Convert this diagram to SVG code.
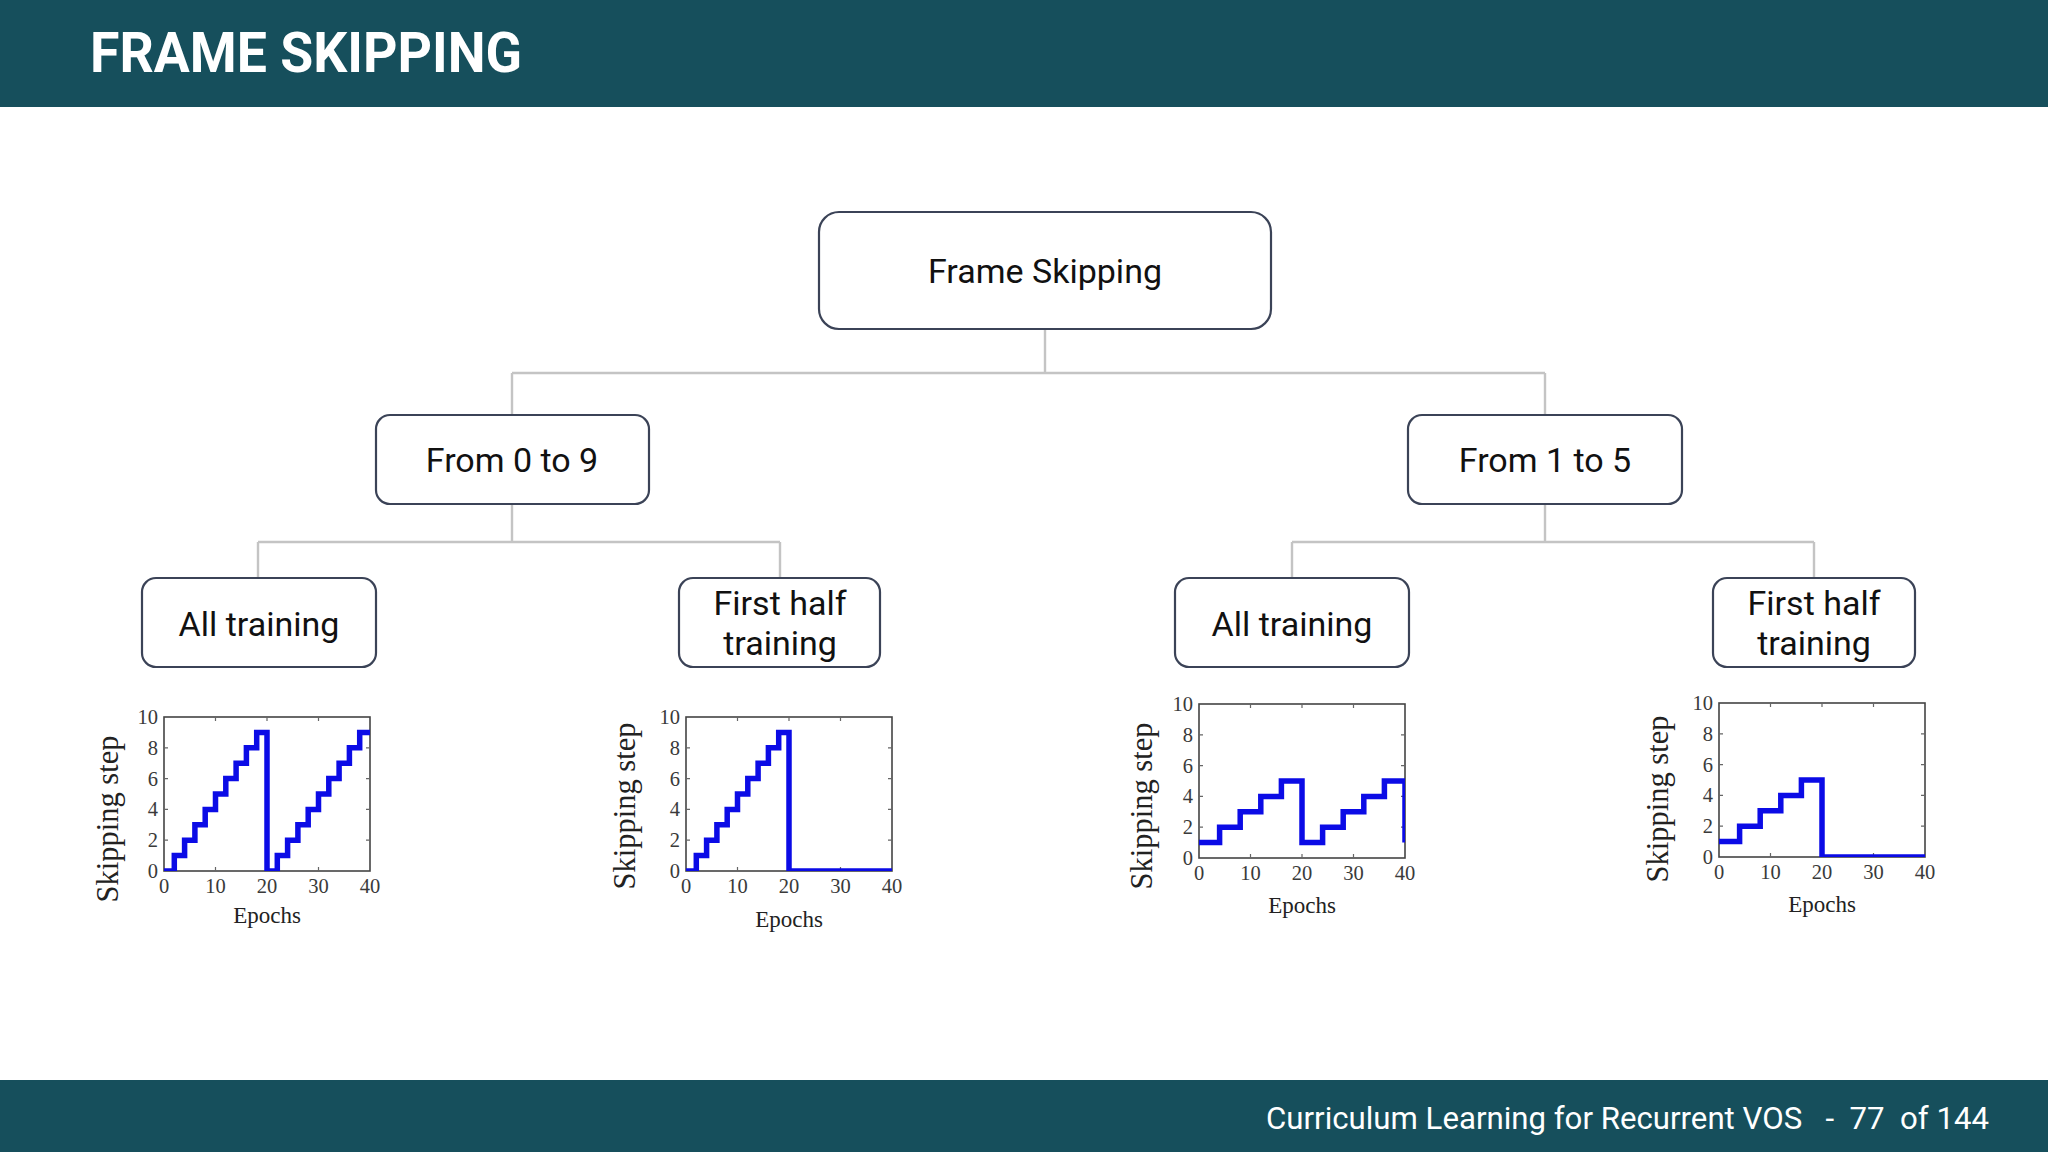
<svg xmlns="http://www.w3.org/2000/svg" width="2048" height="1152" viewBox="0 0 2048 1152">
<defs>
<style>
.band{fill:#164f5c}
.node rect{fill:#ffffff;stroke:#3b4357;stroke-width:2.2}
.node text{font-family:Roboto,"Liberation Sans",sans-serif;font-size:34px;fill:#111111;text-anchor:middle}
.conn{fill:none;stroke:#c4c4c4;stroke-width:2.4}
.frame{fill:none;stroke:#444444;stroke-width:1.6}
.tick{stroke:#666666;stroke-width:1.2}
.tl{font-family:"Liberation Serif","Times New Roman",serif;font-size:20.5px;fill:#3a3a3a}
.tly{text-anchor:end}
.tlx{text-anchor:middle}
.xl{font-family:"Liberation Serif","Times New Roman",serif;font-size:23px;fill:#222222;text-anchor:middle}
.yl{font-family:"Liberation Serif","Times New Roman",serif;font-size:30.5px;fill:#222222;text-anchor:middle}
.data{fill:none;stroke:#0b0be6;stroke-width:5.5;stroke-linejoin:miter;stroke-linecap:butt}
</style>
<clipPath id="plotclip"><rect x="0" y="0" width="206" height="154"/></clipPath>
<g id="axes">
<rect class="frame" x="0" y="0" width="206" height="154"/>
<path class="tick" d="M51.5,154v-4M103,154v-4M154.5,154v-4M51.5,0v4M103,0v4M154.5,0v4M0,123.2h4M0,92.4h4M0,61.6h4M0,30.8h4M206,123.2h-4M206,92.4h-4M206,61.6h-4M206,30.8h-4"/>
<text class="tl tly" x="-6" y="161">0</text>
<text class="tl tly" x="-6" y="130.2">2</text>
<text class="tl tly" x="-6" y="99.4">4</text>
<text class="tl tly" x="-6" y="68.6">6</text>
<text class="tl tly" x="-6" y="37.8">8</text>
<text class="tl tly" x="-6" y="7">10</text>
<text class="tl tlx" x="0" y="176">0</text>
<text class="tl tlx" x="51.5" y="176">10</text>
<text class="tl tlx" x="103" y="176">20</text>
<text class="tl tlx" x="154.5" y="176">30</text>
<text class="tl tlx" x="206" y="176">40</text>
</g>
</defs>

<rect x="0" y="0" width="2048" height="1152" fill="#ffffff"/>

<g id="header">
<rect class="band" x="0" y="0" width="2048" height="107"/>
<text x="90" y="72" font-family="Roboto,'Liberation Sans',sans-serif" font-weight="700" font-size="56" fill="#ffffff" textLength="432" lengthAdjust="spacingAndGlyphs">FRAME SKIPPING</text>
</g>

<g id="footer">
<rect class="band" x="0" y="1080" width="2048" height="72"/>
<text x="1266" y="1129" xml:space="preserve" font-family="Roboto,'Liberation Sans',sans-serif" font-size="31" fill="#ffffff" textLength="723" lengthAdjust="spacingAndGlyphs">Curriculum Learning for Recurrent VOS   -  77  of 144</text>
</g>

<g id="connectors">
<path class="conn" d="M1045,329V373M512,373H1545M512,373V415M1545,373V415"/>
<path class="conn" d="M512,504V542M258,542H780M258,542V578M780,542V578"/>
<path class="conn" d="M1545,504V542M1292,542H1814M1292,542V578M1814,542V578"/>
</g>

<g id="node-root" class="node">
<rect x="819" y="212" width="452" height="117" rx="20"/>
<text x="1045" y="283">Frame Skipping</text>
</g>
<g id="node-0to9" class="node">
<rect x="376" y="415" width="273" height="89" rx="14"/>
<text x="512" y="472">From 0 to 9</text>
</g>
<g id="node-1to5" class="node">
<rect x="1408" y="415" width="274" height="89" rx="14"/>
<text x="1545" y="472">From 1 to 5</text>
</g>
<g id="node-0to9-all" class="node">
<rect x="142" y="578" width="234" height="89" rx="14"/>
<text x="259" y="636">All training</text>
</g>
<g id="node-0to9-half" class="node">
<rect x="679" y="578" width="201" height="89" rx="14"/>
<text x="780" y="615">First half</text>
<text x="780" y="655">training</text>
</g>
<g id="node-1to5-all" class="node">
<rect x="1175" y="578" width="234" height="89" rx="14"/>
<text x="1292" y="636">All training</text>
</g>
<g id="node-1to5-half" class="node">
<rect x="1713" y="578" width="202" height="89" rx="14"/>
<text x="1814" y="615">First half</text>
<text x="1814" y="655">training</text>
</g>

<g id="chart-0to9-all" transform="translate(164,717)">
<use href="#axes"/>
<path class="data" clip-path="url(#plotclip)" d="M0,154H10.3V138.6H20.6V123.2H30.9V107.8H41.2V92.4H51.5V77H61.8V61.6H72.1V46.2H82.4V30.8H92.7V15.4H103V154H113.3V138.6H123.6V123.2H133.9V107.8H144.2V92.4H154.5V77H164.8V61.6H175.1V46.2H185.4V30.8H195.7V15.4H206"/>
<text class="xl" x="103" y="206">Epochs</text>
<text class="yl" transform="translate(-46,102) rotate(-90)">Skipping step</text>
</g>

<g id="chart-0to9-half" transform="translate(686,717)">
<use href="#axes"/>
<path class="data" clip-path="url(#plotclip)" d="M0,154H10.3V138.6H20.6V123.2H30.9V107.8H41.2V92.4H51.5V77H61.8V61.6H72.1V46.2H82.4V30.8H92.7V15.4H103V154H206"/>
<text class="xl" x="103" y="210">Epochs</text>
<text class="yl" transform="translate(-51,89) rotate(-90)">Skipping step</text>
</g>

<g id="chart-1to5-all" transform="translate(1199,704)">
<use href="#axes"/>
<path class="data" clip-path="url(#plotclip)" d="M0,138.6H20.6V123.2H41.2V107.8H61.8V92.4H82.4V77H103V138.6H123.6V123.2H144.2V107.8H164.8V92.4H185.4V77H206V138.6"/>
<text class="xl" x="103" y="209">Epochs</text>
<text class="yl" transform="translate(-47,102) rotate(-90)">Skipping step</text>
</g>

<g id="chart-1to5-half" transform="translate(1719,703)">
<use href="#axes"/>
<path class="data" clip-path="url(#plotclip)" d="M0,138.6H20.6V123.2H41.2V107.8H61.8V92.4H82.4V77H103V154H206"/>
<text class="xl" x="103" y="209">Epochs</text>
<text class="yl" transform="translate(-51,96) rotate(-90)">Skipping step</text>
</g>
</svg>
